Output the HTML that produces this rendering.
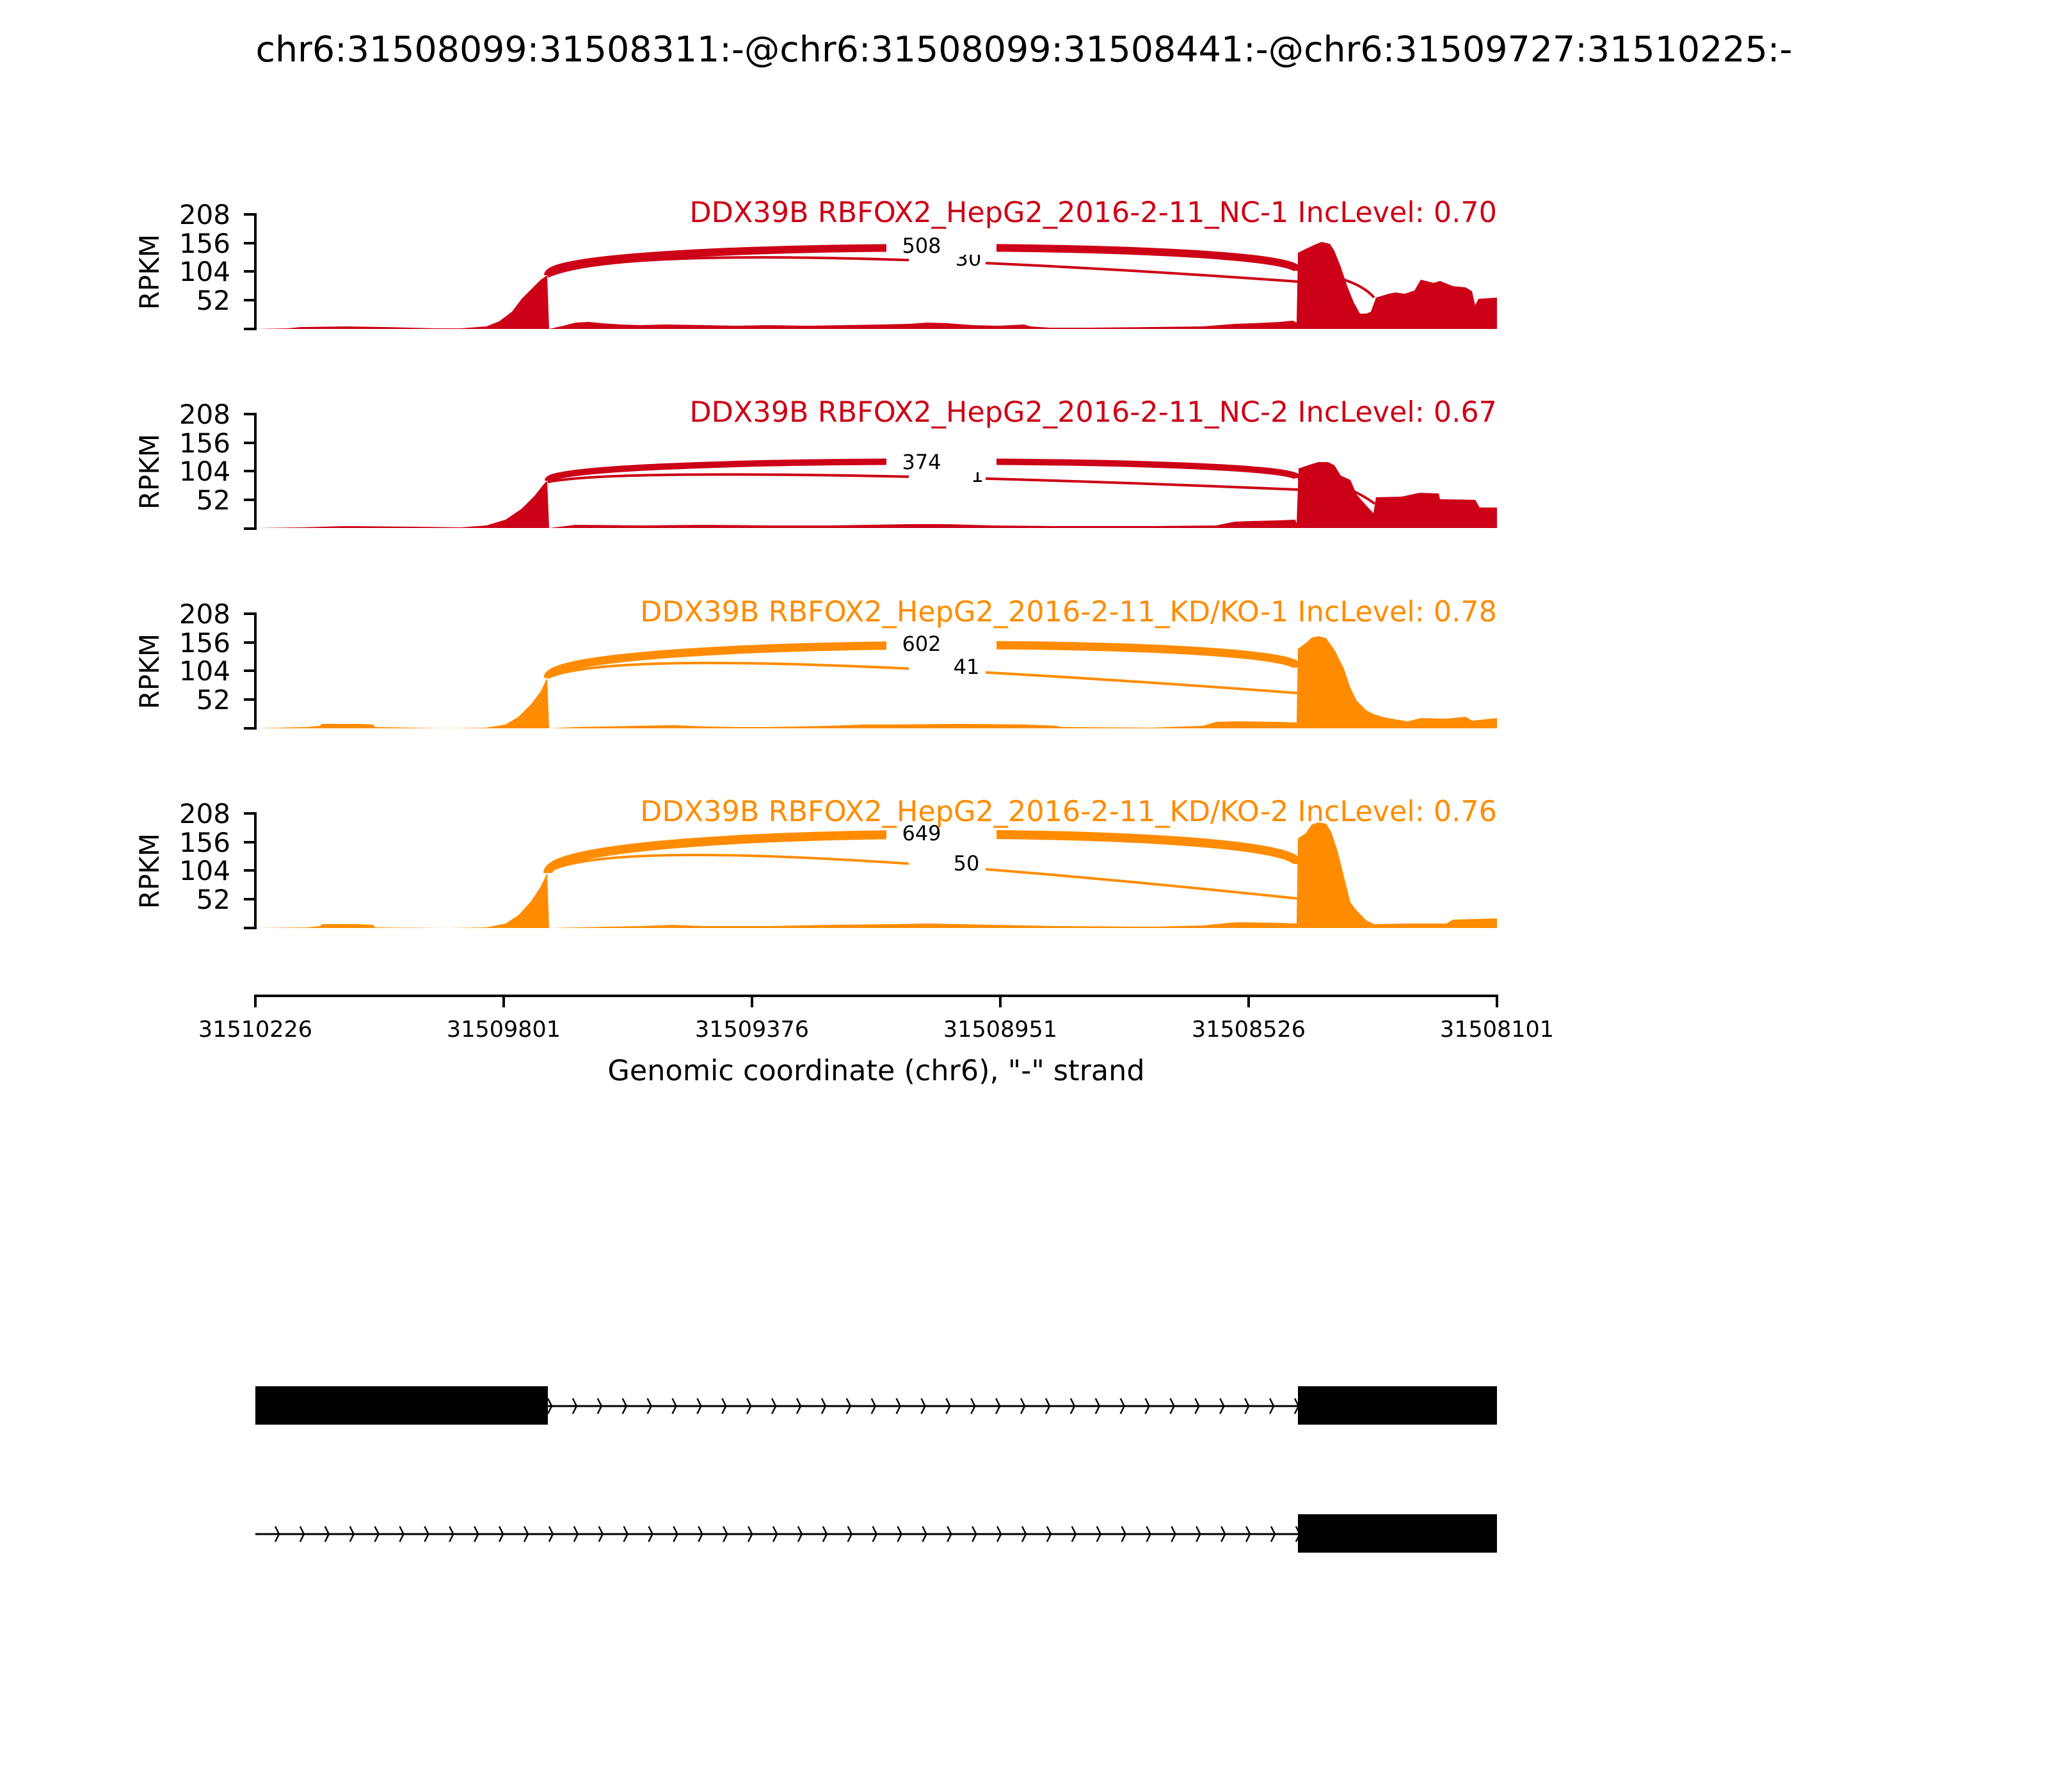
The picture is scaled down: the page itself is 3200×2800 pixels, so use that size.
<!DOCTYPE html>
<html><head><meta charset="utf-8"><style>
html,body{margin:0;padding:0;background:#fff}
svg{display:block}
text{font-family:"DejaVu Sans","Liberation Sans",sans-serif}
</style></head><body>
<svg width="3200" height="2800" viewBox="0 0 3200 2800" xmlns="http://www.w3.org/2000/svg">
<defs>
<pattern id="chev1" x="841" y="0" width="38.9" height="2800" patternUnits="userSpaceOnUse">
<path d="M15,2185 L21,2197 L15,2209" fill="none" stroke="#000" stroke-width="2.5"/>
</pattern>
<pattern id="chev2" x="415" y="0" width="38.9" height="2800" patternUnits="userSpaceOnUse">
<path d="M15,2385 L21,2397 L15,2409" fill="none" stroke="#000" stroke-width="2.5"/>
</pattern>
</defs>
<rect width="3200" height="2800" fill="#fff"/>
<text x="1600" y="96" font-size="55.4" text-anchor="middle">chr6:31508099:31508311:-@chr6:31508099:31508441:-@chr6:31509727:31510225:-</text>

<!-- Panel 1 -->
<g>
<polygon fill="#cc0016" points="399,514 450,513 470,511 540,510 600,511 680,513 720,513 760,510 780,502 800,487 815,467 830,452 845,437 855,430 858,514 880,509 900,504 920,503 940,505 970,507 1000,508 1040,507 1100,508 1150,509 1200,508 1260,509 1320,508 1380,507 1420,506 1450,504 1480,505 1520,508 1560,509 1600,507 1610,510 1640,512 1700,512 1800,511 1880,510 1930,506 1960,505 2000,503 2020,501 2026,504 2028,395 2040,389 2055,382 2065,378 2078,381 2085,392 2095,417 2105,447 2115,472 2125,490 2135,490 2142,487 2150,465 2170,459 2180,457 2195,459 2210,454 2220,437 2240,442 2250,439 2270,447 2290,449 2300,455 2305,477 2310,467 2339,465 2339,514"/>
<path d="M856,430 C856,374 2028,374 2028,423" fill="none" stroke="#cc0016" stroke-width="12"/>
<path d="M856,432 C950,390 1350,392 2028,440" fill="none" stroke="#cc0016" stroke-width="4"/>
<path d="M2028,424 C2090,428 2130,445 2147,465" fill="none" stroke="#cc0016" stroke-width="4"/>
<rect x="1420" y="394" width="120" height="28" fill="#fff"/>
<text x="1513" y="415" font-size="32" text-anchor="middle">30</text>
<rect x="1385" y="366" width="172" height="32" fill="#fff"/>
<text x="1440" y="395" font-size="32" text-anchor="middle">508</text>
<text x="2339" y="347" font-size="44.5" text-anchor="end" fill="#cc0016">DDX39B RBFOX2_HepG2_2016-2-11_NC-1 IncLevel: 0.70</text>
<path d="M381,335 H399 V514 H381 M381,380 H399 M381,424 H399 M381,469 H399" fill="none" stroke="#000" stroke-width="4"/>
<g font-size="42" text-anchor="end"><text x="360" y="350">208</text><text x="360" y="395">156</text><text x="360" y="439">104</text><text x="360" y="484">52</text></g>
<text transform="translate(248,425) rotate(-90)" font-size="42" text-anchor="middle">RPKM</text>
</g>

<!-- Panel 2 -->
<g>
<polygon fill="#cc0016" points="399,825 470,824 540,822 650,823 720,824 760,821 790,812 815,795 835,775 850,756 855,751 858,825 900,820 1000,821 1100,820 1200,821 1300,821 1420,819 1480,819 1550,821 1650,822 1800,822 1900,821 1930,815 1960,814 2000,813 2024,812 2026,818 2029,732 2050,725 2060,722 2075,722 2085,727 2095,743 2110,750 2120,773 2135,790 2146,802 2150,777 2190,776 2218,770 2248,771 2250,780 2305,781 2312,793 2339,793 2339,825"/>
<path d="M856,751 C856,712 2028,712 2028,747" fill="none" stroke="#cc0016" stroke-width="10"/>
<path d="M856,753 C950,735 1350,737 2028,765" fill="none" stroke="#cc0016" stroke-width="4"/>
<path d="M2028,749 C2090,752 2125,770 2148,787" fill="none" stroke="#cc0016" stroke-width="4"/>
<rect x="1420" y="733" width="120" height="28" fill="#fff"/>
<text x="1527" y="753" font-size="32" text-anchor="middle">1</text>
<rect x="1385" y="706" width="172" height="32" fill="#fff"/>
<text x="1440" y="733" font-size="32" text-anchor="middle">374</text>
<text x="2339" y="659" font-size="44.5" text-anchor="end" fill="#cc0016">DDX39B RBFOX2_HepG2_2016-2-11_NC-2 IncLevel: 0.67</text>
<path d="M381,647 H399 V826 H381 M381,692 H399 M381,736 H399 M381,781 H399" fill="none" stroke="#000" stroke-width="4"/>
<g font-size="42" text-anchor="end"><text x="360" y="662">208</text><text x="360" y="707">156</text><text x="360" y="751">104</text><text x="360" y="796">52</text></g>
<text transform="translate(248,737) rotate(-90)" font-size="42" text-anchor="middle">RPKM</text>
</g>

<!-- Panel 3 -->
<g>
<polygon fill="#ff8c00" points="399,1138 480,1136 500,1134 503,1131 560,1131 583,1132 586,1136 700,1138 760,1137 790,1132 810,1120 830,1100 845,1080 855,1059 858,1138 900,1136 950,1135 1000,1134 1050,1133 1100,1135 1150,1136 1200,1136 1300,1134 1350,1132 1400,1132 1500,1131 1600,1132 1650,1134 1660,1136 1800,1137 1880,1134 1900,1128 1930,1127 2000,1128 2026,1129 2028,1014 2040,1005 2050,996 2060,994 2072,997 2085,1015 2100,1045 2110,1075 2120,1095 2135,1110 2147,1116 2160,1120 2180,1124 2200,1127 2220,1122 2260,1123 2290,1120 2300,1126 2339,1122 2339,1138"/>
<path d="M856,1059 C856,994 2028,994 2028,1043" fill="none" stroke="#ff8c00" stroke-width="13"/>
<path d="M856,1059 C930,1025 1250,1025 2028,1083" fill="none" stroke="#ff8c00" stroke-width="4"/>
<rect x="1420" y="1028" width="120" height="30" fill="#fff"/>
<text x="1510" y="1053" font-size="32" text-anchor="middle">41</text>
<rect x="1385" y="990" width="172" height="32" fill="#fff"/>
<text x="1440" y="1017" font-size="32" text-anchor="middle">602</text>
<text x="2339" y="971" font-size="44.5" text-anchor="end" fill="#ff8c00">DDX39B RBFOX2_HepG2_2016-2-11_KD/KO-1 IncLevel: 0.78</text>
<path d="M381,959 H399 V1138 H381 M381,1004 H399 M381,1048 H399 M381,1093 H399" fill="none" stroke="#000" stroke-width="4"/>
<g font-size="42" text-anchor="end"><text x="360" y="974">208</text><text x="360" y="1019">156</text><text x="360" y="1063">104</text><text x="360" y="1108">52</text></g>
<text transform="translate(248,1049) rotate(-90)" font-size="42" text-anchor="middle">RPKM</text>
</g>

<!-- Panel 4 -->
<g>
<polygon fill="#ff8c00" points="399,1450 480,1449 500,1447 503,1444 560,1444 583,1445 586,1449 700,1450 760,1449 790,1443 810,1430 830,1408 845,1385 855,1364 858,1450 950,1448 1000,1447 1050,1445 1100,1447 1200,1447 1300,1445 1400,1444 1450,1443 1550,1445 1650,1447 1800,1448 1880,1446 1920,1442 1935,1441 2000,1442 2026,1443 2028,1310 2040,1302 2050,1288 2060,1285 2072,1287 2080,1300 2090,1330 2100,1370 2110,1410 2120,1423 2135,1438 2147,1444 2200,1443 2260,1443 2270,1437 2339,1435 2339,1450"/>
<path d="M856,1364 C856,1286 2028,1286 2028,1350" fill="none" stroke="#ff8c00" stroke-width="14"/>
<path d="M856,1362 C930,1322 1250,1322 2028,1404" fill="none" stroke="#ff8c00" stroke-width="4"/>
<rect x="1420" y="1335" width="120" height="30" fill="#fff"/>
<text x="1510" y="1360" font-size="32" text-anchor="middle">50</text>
<rect x="1385" y="1287" width="172" height="32" fill="#fff"/>
<text x="1440" y="1313" font-size="32" text-anchor="middle">649</text>
<text x="2339" y="1283" font-size="44.5" text-anchor="end" fill="#ff8c00">DDX39B RBFOX2_HepG2_2016-2-11_KD/KO-2 IncLevel: 0.76</text>
<path d="M381,1271 H399 V1450 H381 M381,1316 H399 M381,1360 H399 M381,1405 H399" fill="none" stroke="#000" stroke-width="4"/>
<g font-size="42" text-anchor="end"><text x="360" y="1286">208</text><text x="360" y="1331">156</text><text x="360" y="1375">104</text><text x="360" y="1420">52</text></g>
<text transform="translate(248,1361) rotate(-90)" font-size="42" text-anchor="middle">RPKM</text>
</g>

<!-- X axis -->
<path d="M399,1574 V1556 H2339 V1574 M787,1556 V1574 M1175,1556 V1574 M1563,1556 V1574 M1951,1556 V1574" fill="none" stroke="#000" stroke-width="4"/>
<g font-size="35" text-anchor="middle">
<text x="399" y="1620">31510226</text><text x="787" y="1620">31509801</text><text x="1175" y="1620">31509376</text><text x="1563" y="1620">31508951</text><text x="1951" y="1620">31508526</text><text x="2339" y="1620">31508101</text>
</g>
<text x="1369" y="1688" font-size="44.5" text-anchor="middle">Genomic coordinate (chr6), "-" strand</text>

<!-- Gene models -->
<line x1="856" y1="2197" x2="2028" y2="2197" stroke="#000" stroke-width="3"/>
<rect x="856" y="2180" width="1172" height="34" fill="url(#chev1)"/>
<rect x="399" y="2166" width="457" height="60" fill="#000"/>
<rect x="2028" y="2166" width="311" height="60" fill="#000"/>
<line x1="399" y1="2397" x2="2028" y2="2397" stroke="#000" stroke-width="3"/>
<rect x="420" y="2380" width="1608" height="34" fill="url(#chev2)"/>
<rect x="2028" y="2366" width="311" height="60" fill="#000"/>
</svg>
</body></html>
